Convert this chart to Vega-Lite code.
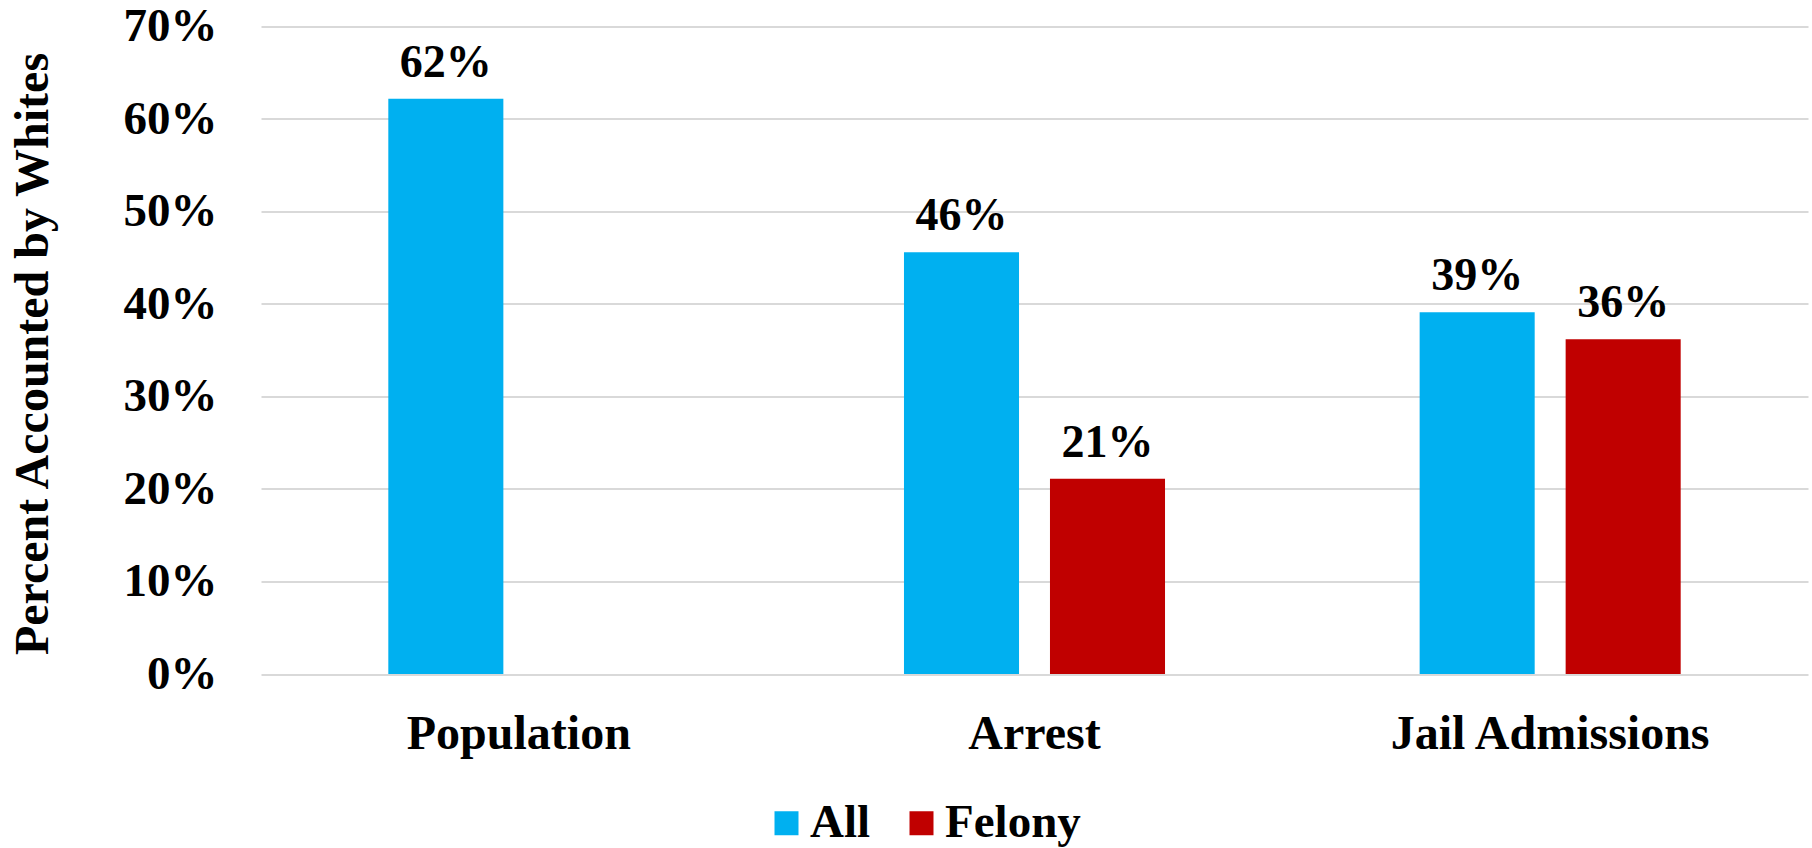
{
  "$schema": "https://vega.github.io/schema/vega-lite/v6.json",
  "width": 1547,
  "height": 647.5,
  "autosize": {"type": "none"},
  "padding": {"left": 261, "top": 26.5, "right": 4, "bottom": 174},
  "background": "white",
  "data": {
    "values": [
      {"category": "Population", "series": "All", "value": 0.622},
      {"category": "Arrest", "series": "All", "value": 0.456},
      {"category": "Arrest", "series": "Felony", "value": 0.211},
      {"category": "Jail Admissions", "series": "All", "value": 0.391},
      {"category": "Jail Admissions", "series": "Felony", "value": 0.362}
    ]
  },
  "encoding": {
    "x": {
      "field": "category",
      "type": "nominal",
      "sort": ["Population", "Arrest", "Jail Admissions"],
      "scale": {"paddingInner": 0, "paddingOuter": 0},
      "axis": {
        "title": null,
        "labelAngle": 0,
        "labelLimit": 0,
        "domain": false,
        "ticks": false,
        "tickSize": 0,
        "grid": false,
        "labelPadding": 36.5,
        "labelFont": "Liberation Serif",
        "labelFontSize": 48,
        "labelFontWeight": "bold",
        "labelColor": "#000000"
      }
    },
    "xOffset": {
      "field": "series",
      "type": "nominal",
      "scale": {"domain": ["All", "Felony"], "paddingInner": 0.212, "paddingOuter": 0.872}
    },
    "y": {
      "field": "value",
      "type": "quantitative",
      "scale": {"domain": [0, 0.7], "nice": false},
      "axis": {
        "title": "Percent Accounted by Whites",
        "values": [0, 0.1, 0.2, 0.3, 0.4, 0.5, 0.6, 0.7],
        "format": ".0%",
        "domain": false,
        "ticks": false,
        "tickSize": 0,
        "grid": true,
        "gridColor": "#d9d9d9",
        "gridWidth": 2,
        "labelPadding": 44,
        "labelFont": "Liberation Serif",
        "labelFontSize": 47,
        "labelFontWeight": "bold",
        "labelColor": "#000000",
        "titleFont": "Liberation Serif",
        "titleFontSize": 48,
        "titleFontWeight": "bold",
        "titleColor": "#000000",
        "titleAngle": -90,
        "titleX": -228,
        "titleY": 327,
        "titleAlign": "center",
        "titleBaseline": "middle"
      }
    }
  },
  "layer": [
    {
      "mark": {"type": "bar"},
      "encoding": {
        "color": {
          "field": "series",
          "type": "nominal",
          "scale": {"domain": ["All", "Felony"], "range": ["#00B0F0", "#C00000"]},
          "legend": {
            "title": null,
            "orient": "none",
            "direction": "horizontal",
            "legendX": 502,
            "legendY": 773,
            "symbolType": "square",
            "symbolSize": 576,
            "symbolStrokeWidth": 0,
            "labelFont": "Liberation Serif",
            "labelFontSize": 47,
            "labelFontWeight": "bold",
            "labelColor": "#000000",
            "labelOffset": 0,
            "columnPadding": 27
          }
        }
      }
    },
    {
      "mark": {
        "type": "text",
        "baseline": "alphabetic",
        "dy": -22,
        "font": "Liberation Serif",
        "fontSize": 46,
        "fontWeight": "bold",
        "color": "#000000"
      },
      "encoding": {
        "text": {"field": "value", "type": "quantitative", "format": ".0%"}
      }
    }
  ],
  "config": {
    "view": {"stroke": null}
  }
}
